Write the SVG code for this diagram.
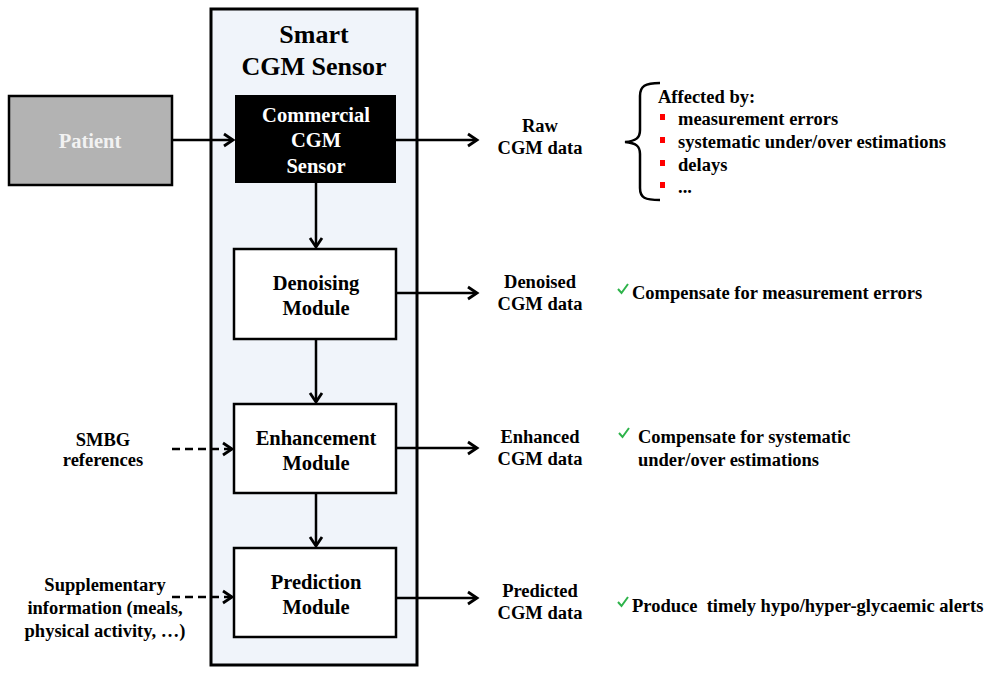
<svg xmlns="http://www.w3.org/2000/svg" width="1000" height="675" viewBox="0 0 1000 675" font-family="Liberation Serif, Times New Roman, serif" font-weight="bold">
<defs>
<marker id="arr" viewBox="-2 -8 14 16" refX="9" refY="0" markerWidth="14" markerHeight="16" orient="auto" markerUnits="userSpaceOnUse" overflow="visible">
<path d="M0,-6 L9,0 L0,6" fill="none" stroke="#000" stroke-width="2.8"/>
</marker>
<style>
text{font-family:'Liberation Serif','Times New Roman',serif;font-weight:bold;fill:#000}
.c{text-anchor:middle}
.box{fill:#fff;stroke:#000;stroke-width:2.5}
.ln{stroke:#000;stroke-width:2.5;fill:none}
.dash{stroke-dasharray:8,5}
.t17{font-size:18.5px}
.t18{font-size:20.5px}
.chk{fill:none;stroke:#2db34a;stroke-width:2}
.bul{fill:#ff0000}
</style>
</defs>
<rect width="1000" height="675" fill="#fff"/>
<g id="smart">
<rect x="211" y="9" width="206" height="656" fill="#f0f4fa" stroke="#000" stroke-width="3"/>
<text class="c" x="314" y="43" font-size="26">Smart</text>
<text class="c" x="314" y="75" font-size="26">CGM Sensor</text>
</g>
<g id="patient">
<rect x="9" y="96" width="163" height="89" fill="#b3b3b3" stroke="#000" stroke-width="2.5"/>
<text class="c t18" x="90" y="148" style="fill:#f2f2f2">Patient</text>
</g>
<g id="commercial">
<rect x="235" y="95" width="161" height="88" fill="#000"/>
<text class="c t18" x="316" y="122" style="fill:#fff">Commercial</text>
<text class="c t18" x="316" y="147" style="fill:#fff">CGM</text>
<text class="c t18" x="316" y="173" style="fill:#fff">Sensor</text>
</g>
<g id="denoising">
<rect class="box" x="234" y="249" width="162" height="90"/>
<text class="c t18" x="316" y="290">Denoising</text>
<text class="c t18" x="316" y="315">Module</text>
</g>
<g id="enhancement">
<rect class="box" x="234" y="404" width="162" height="89"/>
<text class="c t18" x="316" y="445">Enhancement</text>
<text class="c t18" x="316" y="470">Module</text>
</g>
<g id="prediction">
<rect class="box" x="234" y="548" width="162" height="89"/>
<text class="c t18" x="316" y="589">Prediction</text>
<text class="c t18" x="316" y="614">Module</text>
</g>
<g id="connectors">
<line class="ln" x1="172" y1="140" x2="233" y2="140" marker-end="url(#arr)"/>
<line class="ln" x1="316" y1="183" x2="316" y2="247" marker-end="url(#arr)"/>
<line class="ln" x1="316" y1="339" x2="316" y2="402" marker-end="url(#arr)"/>
<line class="ln" x1="316" y1="493" x2="316" y2="546" marker-end="url(#arr)"/>
<line class="ln" x1="396" y1="140" x2="477" y2="140" marker-end="url(#arr)"/>
<line class="ln" x1="396" y1="293" x2="477" y2="293" marker-end="url(#arr)"/>
<line class="ln" x1="396" y1="448" x2="477" y2="448" marker-end="url(#arr)"/>
<line class="ln" x1="396" y1="598" x2="477" y2="598" marker-end="url(#arr)"/>
<line class="ln dash" x1="172" y1="449" x2="232" y2="449" marker-end="url(#arr)"/>
<line class="ln dash" x1="172" y1="597" x2="232" y2="597" marker-end="url(#arr)"/>
</g>
<g id="outputs">
<text class="c t17" x="540" y="132">Raw</text>
<text class="c t17" x="540" y="154">CGM data</text>
<text class="c t17" x="540" y="288">Denoised</text>
<text class="c t17" x="540" y="310">CGM data</text>
<text class="c t17" x="540" y="443">Enhanced</text>
<text class="c t17" x="540" y="465">CGM data</text>
<text class="c t17" x="540" y="597">Predicted</text>
<text class="c t17" x="540" y="619">CGM data</text>
</g>
<g id="inputs">
<text class="c t17" x="103" y="446">SMBG</text>
<text class="c t17" x="103" y="466">references</text>
<text class="c t17" x="105" y="591">Supplementary</text>
<text class="c t17" x="105" y="614">information (meals,</text>
<text class="c t17" x="105" y="637">physical activity, …)</text>
</g>
<g id="affected">
<path d="M660,83 C645,83 640,86 640,96 L640,130 C640,138 636,141 625,142 C636,143 640,146 640,154 L640,188 C640,198 645,200 660,200" fill="none" stroke="#000" stroke-width="2.5"/>
<text class="t17" x="658" y="103">Affected by:</text>
<rect class="bul" x="660" y="114" width="5" height="6"/>
<rect class="bul" x="660" y="137" width="5" height="6"/>
<rect class="bul" x="660" y="160" width="5" height="6"/>
<rect class="bul" x="660" y="182" width="5" height="6"/>
<text class="t17" x="678" y="125">measurement errors</text>
<text class="t17" x="678" y="148">systematic under/over estimations</text>
<text class="t17" x="678" y="171">delays</text>
<text class="t17" x="678" y="193">...</text>
</g>
<g id="notes">
<path class="chk" d="M618,289 L621.5,293 L628,284"/>
<text class="t17" x="632" y="299">Compensate for measurement errors</text>
<path class="chk" d="M619,433 L622.5,437 L629,428"/>
<text class="t17" x="638" y="443">Compensate for systematic</text>
<text class="t17" x="638" y="466">under/over estimations</text>
<path class="chk" d="M618,602 L621.5,606 L628,597"/>
<text class="t17" x="632" y="612" xml:space="preserve">Produce  timely hypo/hyper-glycaemic alerts</text>
</g>
</svg>
